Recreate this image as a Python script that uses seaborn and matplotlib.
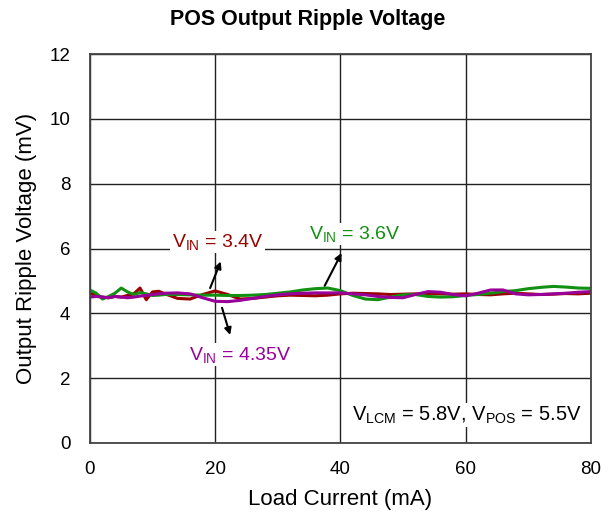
import numpy as np
import pandas as pd
import matplotlib
matplotlib.use('Agg')
import matplotlib.pyplot as plt
import seaborn as sns

# load current (mA)
load_ma = [0, 1, 2, 3, 4, 5, 6, 7, 8, 9, 10, 11, 12,
           14, 16, 18, 20, 22, 24, 26, 28, 30, 32, 34, 36, 38, 40,
           42, 44, 46, 48, 50, 52, 54, 56, 58, 60,
           62, 64, 66, 68, 70, 72, 74, 76, 78, 80]

# ripple (mV) per input voltage
vin_34 = [4.62, 4.55, 4.50, 4.48, 4.52, 4.50, 4.55, 4.60, 4.78, 4.42, 4.66, 4.68, 4.60,
          4.46, 4.44, 4.58, 4.69, 4.58, 4.44, 4.46, 4.50, 4.54, 4.56, 4.55, 4.54, 4.56, 4.60,
          4.62, 4.61, 4.60, 4.58, 4.59, 4.60, 4.61, 4.60, 4.59, 4.60,
          4.58, 4.57, 4.60, 4.62, 4.60, 4.58, 4.59, 4.61, 4.60, 4.62]
vin_36 = [4.72, 4.62, 4.44, 4.52, 4.62, 4.78, 4.66, 4.58, 4.64, 4.60, 4.55, 4.56, 4.58,
          4.58, 4.57, 4.56, 4.56, 4.55, 4.55, 4.56, 4.58, 4.62, 4.66, 4.72, 4.76, 4.78, 4.70,
          4.55, 4.44, 4.42, 4.50, 4.57, 4.58, 4.52, 4.50, 4.51, 4.55,
          4.58, 4.62, 4.67, 4.70, 4.76, 4.80, 4.83, 4.81, 4.78, 4.77]
vin_435 = [4.50, 4.52, 4.50, 4.48, 4.52, 4.50, 4.48, 4.50, 4.53, 4.55, 4.58, 4.60, 4.62,
           4.63, 4.60, 4.48, 4.37, 4.36, 4.40, 4.46, 4.52, 4.57, 4.60, 4.62, 4.63, 4.63, 4.63,
           4.60, 4.57, 4.52, 4.49, 4.48, 4.58, 4.67, 4.65, 4.58, 4.54,
           4.62, 4.72, 4.72, 4.60, 4.57, 4.58, 4.60, 4.62, 4.65, 4.67]

series_names = ['3.4V', '3.6V', '4.35V']
series_colors = ['#990000', '#119011', '#990099']

df = pd.DataFrame({'load': load_ma * 3,
                   'ripple': vin_34 + vin_36 + vin_435,
                   'vin': [n for n in series_names for _ in load_ma]})

sns.set_style('white')
plt.rcParams['font.family'] = ['Liberation Sans', 'DejaVu Sans']
plt.rcParams['mathtext.fontset'] = 'custom'
plt.rcParams['mathtext.rm'] = 'Liberation Sans'
plt.rcParams['mathtext.it'] = 'Liberation Sans'
plt.rcParams['text.color'] = 'black'
plt.rcParams['axes.labelcolor'] = 'black'
plt.rcParams['xtick.color'] = 'black'
plt.rcParams['ytick.color'] = 'black'

fig = plt.figure(figsize=(6.16, 5.21), dpi=100)
ax = fig.add_axes([0.146, 0.150, 0.813, 0.746])

sns.lineplot(data=df, x='load', y='ripple', hue='vin', palette=series_colors,
             linewidth=2.2, legend=False, ax=ax)

ax.set_xlim(0, 80)
ax.set_ylim(0, 12)
ax.set_xticks([0, 20, 40, 60, 80])
ax.set_yticks([0, 2, 4, 6, 8, 10, 12])
ax.grid(True, color='#222222', linewidth=1)
ax.set_axisbelow(True)
for s in ax.spines.values():
    s.set_color('#444444')
    s.set_linewidth(1.3)
ax.tick_params(length=0, labelsize=13.5)
ax.tick_params(axis='x', pad=13)
ax.tick_params(axis='y', pad=14)
ax.set_xlabel('Load Current (mA)', fontsize=16, labelpad=8)
ax.set_ylabel('Output Ripple Voltage (mV)', fontsize=16, labelpad=9)
fig.text(0.5, 0.962, 'POS Output Ripple Voltage', fontsize=15.5, fontweight='bold',
         ha='center', va='center')

# labels and arrows
box = dict(facecolor='white', edgecolor='none', pad=1)
ax.text(20.4, 6.2, r'V$_{\mathrm{IN}}$ = 3.4V', color=series_colors[0],
        fontsize=14, ha='center', va='center', bbox=box)
ax.text(42.3, 6.45, r'V$_{\mathrm{IN}}$ = 3.6V', color=series_colors[1],
        fontsize=14, ha='center', va='center', bbox=box)
ax.text(24.0, 2.72, r'V$_{\mathrm{IN}}$ = 4.35V', color=series_colors[2],
        fontsize=14, ha='center', va='center', bbox=box)
ax.text(78.5, 0.85, r'V$_{\mathrm{LCM}}$ = 5.8V, V$_{\mathrm{POS}}$ = 5.5V', color='black',
        fontsize=14.5, ha='right', va='center', bbox=box)

arrow = dict(arrowstyle='-|>', color='black', lw=1.5, mutation_scale=10,
             shrinkA=0, shrinkB=0)
ax.annotate('', xy=(20.9, 5.6), xytext=(19.2, 4.78), arrowprops=arrow)
ax.annotate('', xy=(40.2, 5.86), xytext=(37.5, 4.85), arrowprops=arrow)
ax.annotate('', xy=(22.4, 3.33), xytext=(21.1, 4.17), arrowprops=arrow)

fig.savefig('out.png', dpi=100)
